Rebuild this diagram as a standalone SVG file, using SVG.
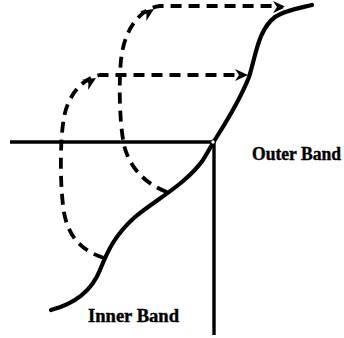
<svg xmlns="http://www.w3.org/2000/svg" xmlns:xlink="http://www.w3.org/1999/xlink" width="344" height="338" viewBox="0 0 344 338">
<style>
.solid{fill:none;stroke:#000;stroke-width:4.2;stroke-linecap:round;stroke-linejoin:round}
.axis{fill:none;stroke:#000;stroke-width:3.4}
.dash{fill:none;stroke:#000;stroke-width:3.8;stroke-dasharray:11 7}
.lbl{font-family:"Liberation Serif","Times New Roman",serif;font-weight:bold;font-size:18px;fill:#000;stroke:#000;stroke-width:0.4}
</style>
<defs>
<path id="ah" d="M0,0 L-13,-6 L-9,0 L-13,6 Z" fill="#000"/>
</defs>
<rect width="344" height="338" fill="#fff"/>
<g id="axes">
<line class="axis" x1="10" y1="142" x2="213" y2="142"/>
<line class="axis" x1="214" y1="142" x2="214" y2="335"/>
</g>
<g id="connectors">
<path class="dash" d="M104,258 C80,250 66,235 63,205 C60,180 60,140 64,117 C68,97 80,79 100,75 L240,75"/>
<path class="dash" d="M167,192 C148,185 130,170 124,145 C119,120 119,80 121,60 C124,30 140,8 160,6 L278,6"/>
<use xlink:href="#ah" transform="translate(248,75)"/>
<use xlink:href="#ah" transform="translate(286,7)"/>
<use xlink:href="#ah" transform="translate(96,78) rotate(-32)"/>
<use xlink:href="#ah" transform="translate(154,9) rotate(-33)"/>
</g>
<g id="band-curve">
<path class="solid" d="M51,310 C70,305 90,295 100,270 C108,250 115,235 135,217 C155,200 185,185 203,160 L213,143 C222,128 238,105 249,77 C256,55 258,30 275,17 C285,10 300,8 312,5"/>
<circle cx="213" cy="142" r="2.2" fill="#fff" stroke="#000" stroke-width="1"/>
<circle cx="285" cy="8" r="1.8" fill="#fff"/>
</g>
<g id="outer-band"><text class="lbl" x="252" y="160" textLength="89" lengthAdjust="spacingAndGlyphs">Outer Band</text></g>
<g id="inner-band"><text class="lbl" x="88" y="322" textLength="91" lengthAdjust="spacingAndGlyphs">Inner Band</text></g>
</svg>
